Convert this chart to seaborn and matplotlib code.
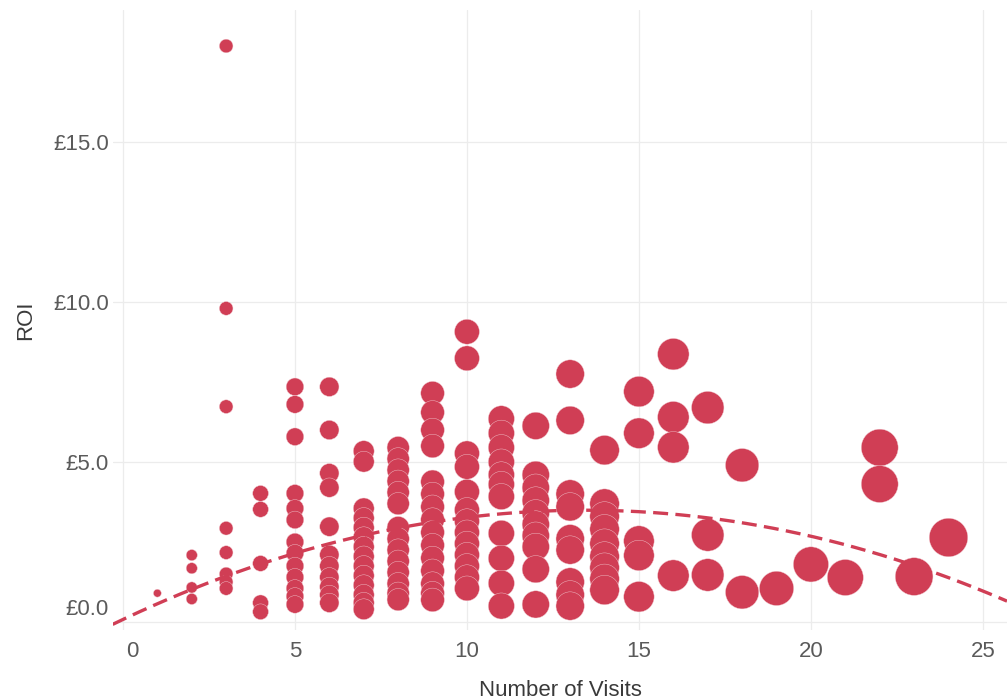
import matplotlib
matplotlib.use("Agg")
import matplotlib.pyplot as plt
import matplotlib.transforms as mtransforms
import numpy as np
import pandas as pd
import seaborn as sns

# Number of visits per customer and the return on investment for each
visits = (
    [1]
    + [2] * 4
    + [3] * 8
    + [4] * 5
    + [5] * 13
    + [6] * 11
    + [7] * 14
    + [8] * 14
    + [9] * 15
    + [10] * 13
    + [11] * 11
    + [12] * 10
    + [13] * 9
    + [14] * 9
    + [15] * 5
    + [16] * 4
    + [17] * 3
    + [18] * 2
    + [19]
    + [20]
    + [21]
    + [22] * 2
    + [23]
    + [24]
)
roi = (
    [0.9]
    + [2.09, 1.68, 1.08, 0.72]
    + [18.0, 9.8, 6.73, 2.93, 2.17, 1.5, 1.25, 1.05]
    + [4.02, 3.52, 1.83, 0.6, 0.32]
    + [7.35, 6.8, 5.79, 4.02, 3.55, 3.19, 2.5, 2.15, 1.75, 1.4, 1.05, 0.8, 0.55]
    + [7.35, 6.0, 4.65, 4.2, 2.98, 2.1, 1.75, 1.4, 1.1, 0.85, 0.6]
    + [5.34, 5.01, 3.55, 3.25, 2.95, 2.65, 2.35, 2.05, 1.75, 1.45, 1.15, 0.85, 0.6, 0.4]
    + [5.45, 5.1, 4.75, 4.4, 4.05, 3.7, 2.95, 2.6, 2.25, 1.9, 1.55, 1.2, 0.9, 0.7]
    + [7.15, 6.55, 6.0, 5.5, 4.38, 4.0, 3.6, 3.2, 2.8, 2.4, 2.0, 1.6, 1.2, 0.9, 0.69]
    + [9.07, 8.24, 5.27, 4.85, 4.07, 3.5, 3.15, 2.8, 2.45, 2.1, 1.75, 1.4, 1.05]
    + [6.35, 5.9, 5.45, 5.0, 4.6, 4.3, 3.92, 2.77, 1.99, 1.21, 0.5]
    + [6.13, 4.6, 4.2, 3.8, 3.4, 3.05, 2.7, 2.35, 1.65, 0.55]
    + [7.75, 6.3, 4.0, 3.6, 2.6, 2.25, 1.25, 0.85, 0.5]
    + [5.37, 3.7, 3.3, 2.9, 2.45, 2.05, 1.7, 1.35, 1.0]
    + [7.2, 5.9, 2.53, 2.08, 0.79]
    + [8.37, 6.4, 5.46, 1.45]
    + [6.7, 2.72, 1.47]
    + [4.9, 0.93]
    + [1.05]
    + [1.8]
    + [1.39]
    + [5.45, 4.31]
    + [1.42]
    + [2.64]
)
# Quadratic trend of ROI against visits: c2*x^2 + c1*x + c0
trend_coef = [-0.0189, 0.508, 0.08]

x_ticks = [0, 5, 10, 15, 20, 25]
y_ticks = [0, 5, 10, 15]
y_tick_labels = ["£0.0", "£5.0", "£10.0", "£15.0"]

RED = "#D03E55"

df = pd.DataFrame({"visits": visits, "roi": roi})
x_grid = np.linspace(-0.3, 25.7, 200)
trend = pd.DataFrame({"visits": x_grid, "roi": np.polyval(trend_coef, x_grid)})

sns.set_theme(style="white")
plt.rcParams["font.family"] = ["Liberation Sans", "DejaVu Sans"]

fig = plt.figure(figsize=(10.07, 7.0), dpi=100)
ax = fig.add_axes([113 / 1007, 70 / 700, (1007 - 113) / 1007, 620 / 700])

# marker area grows linearly with the number of visits
sns.scatterplot(
    data=df, x="visits", y="roi", size="visits",
    sizes=(0, 32 * 25), size_norm=(0, 25),
    color=RED, edgecolor="#f2c9d0", linewidth=0.3,
    legend=False, ax=ax, zorder=3,
)
sns.lineplot(
    data=trend, x="visits", y="roi", ax=ax, color=RED,
    linewidth=2.4, dashes=False, zorder=4,
)
ax.lines[-1].set_dashes((4.5, 2.2))

ax.set_xlim(-0.29, 25.7)
ax.set_ylim(-0.25, 19.125)
ax.set_xticks(x_ticks)
ax.set_xticklabels([str(t) for t in x_ticks])
ax.set_yticks(y_ticks)
ax.set_yticklabels(y_tick_labels)

ax.grid(True, color="#ececec", linewidth=0.9)
ax.set_axisbelow(True)
for s in ax.spines.values():
    s.set_visible(False)

ax.tick_params(axis="both", length=0, labelsize=16, labelcolor="#5a5a5a")
ax.tick_params(axis="x", pad=8)
ax.tick_params(axis="y", pad=3)

# nudge the corner labels apart so "0" and "£0.0" do not collide
ylab0 = ax.get_yticklabels()[0]
ylab0.set_transform(ylab0.get_transform() + mtransforms.ScaledTranslation(0, 0.15, fig.dpi_scale_trans))
xlab0 = ax.get_xticklabels()[0]
xlab0.set_transform(xlab0.get_transform() + mtransforms.ScaledTranslation(0.09, 0, fig.dpi_scale_trans))

ax.set_xlabel("Number of Visits", fontsize=16, color="#3a3a3a", labelpad=13)
ax.set_ylabel("ROI", fontsize=16, color="#3a3a3a", labelpad=12)

fig.savefig("out.png", dpi=100)
